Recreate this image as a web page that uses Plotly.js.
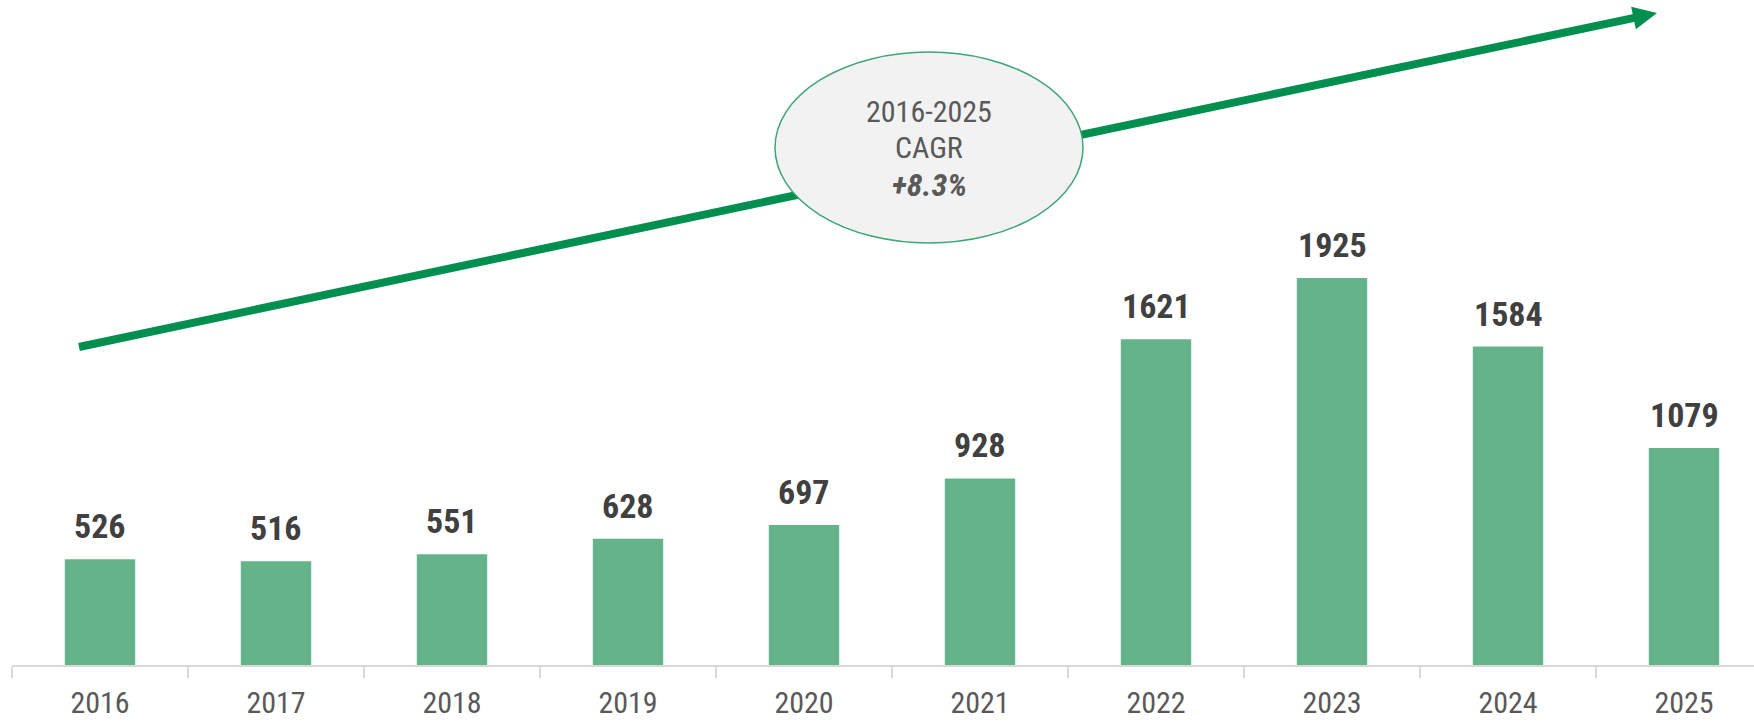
<!DOCTYPE html>
<html>
<head>
<meta charset="utf-8">
<script src="https://cdn.plot.ly/plotly-3.0.1.min.js"></script>
<style>html,body{margin:0;padding:0;background:#fff;}#chart{width:1754px;height:723px;}</style>
</head>
<body>
<div id="chart"></div>
<script>
const years = ['2016','2017','2018','2019','2020','2021','2022','2023','2024','2025'];
const values = [526, 516, 551, 628, 697, 928, 1621, 1925, 1584, 1079];
const cagrLines = ['2016-2025', 'CAGR', '<b><i>+8.3%</i></b>'];

const FONT = '"Roboto Condensed", "Liberation Sans Narrow", "Liberation Sans", Arial, sans-serif';
const GREEN_BAR = '#65B38A';
const GREEN_ARROW = '#008F4F';

const W = 1754, H = 723, ML = 12, MB = 58;
const PW = W - ML, PH = H - MB;
function px(x) { return (x - ML) / PW; }
function py(y) { return (PH - y) / PH; }

const trace = {
  type: 'bar', x: years, y: values,
  marker: {color: GREEN_BAR}, width: 0.4, hoverinfo: 'none'
};

const annotations = values.map((v, i) => ({
  x: i, y: v, xref: 'x', yref: 'y', text: '<b>' + v + '</b>',
  showarrow: false, xanchor: 'center', yanchor: 'middle', yshift: 33,
  font: {family: FONT, size: 34, color: '#404040'}
}));

const ellCx = 929, ellCy = 147.5;
const cagrSizes = [30, 30, 32];
[-36, 0, 37].forEach((dy, i) => {
  annotations.push({
    x: px(ellCx), y: py(ellCy + dy), xref: 'paper', yref: 'paper',
    text: cagrLines[i], showarrow: false, xanchor: 'center', yanchor: 'middle',
    font: {family: FONT, size: cagrSizes[i], color: '#595959'}
  });
});

// arrow geometry (pixels)
const a0 = [79, 347], tip = [1657, 13];
const dx = tip[0] - a0[0], dy = tip[1] - a0[1], L = Math.hypot(dx, dy);
const ux = dx / L, uy = dy / L, hl = 24, hw = 11.5;
const bc = [tip[0] - hl * ux, tip[1] - hl * uy];
const c1 = [bc[0] - uy * hw, bc[1] + ux * hw];
const c2 = [bc[0] + uy * hw, bc[1] - ux * hw];
const P = p => px(p[0]) + ',' + py(p[1]);

const shapes = [
  {type: 'line', xref: 'paper', yref: 'paper',
   x0: px(a0[0]), y0: py(a0[1]), x1: px(bc[0] + 2 * ux), y1: py(bc[1] + 2 * uy),
   line: {color: GREEN_ARROW, width: 8}},
  {type: 'path', xref: 'paper', yref: 'paper',
   path: 'M' + P(tip) + ' L' + P(c1) + ' L' + P(c2) + ' Z',
   fillcolor: GREEN_ARROW, line: {width: 0}},
  {type: 'circle', xref: 'paper', yref: 'paper',
   x0: px(775), x1: px(1083), y0: py(243), y1: py(52),
   fillcolor: '#F2F2F2', line: {color: '#3DA579', width: 1.5}}
];

const layout = {
  width: W, height: H,
  margin: {l: ML, r: 0, t: 0, b: MB, pad: 0},
  paper_bgcolor: '#ffffff', plot_bgcolor: '#ffffff',
  showlegend: false,
  xaxis: {
    type: 'category', range: [-0.5, -0.5 + PW / 176],
    showline: true, linecolor: '#D9D9D9', linewidth: 2,
    ticks: 'outside', tickson: 'boundaries', ticklen: 11, tickcolor: '#D9D9D9', tickwidth: 2,
    showgrid: false, zeroline: false,
    tickfont: {family: FONT, size: 30, color: '#595959'},
    ticklabelstandoff: 10, fixedrange: true
  },
  yaxis: {range: [0, PH / 0.201], visible: false, showgrid: false, zeroline: false, fixedrange: true},
  bargap: 0.6,
  annotations: annotations,
  shapes: shapes
};

Plotly.newPlot('chart', [trace], layout, {displayModeBar: false, staticPlot: true});
</script>
</body>
</html>
